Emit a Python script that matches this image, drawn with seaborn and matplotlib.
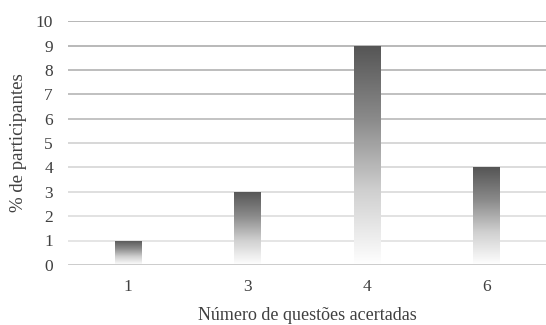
import numpy as np
import pandas as pd
import matplotlib.pyplot as plt
import seaborn as sns
from matplotlib.colors import LinearSegmentedColormap

# dados
acertos = ["1", "3", "4", "6"]
percentual = [1, 3, 9, 4]

df = pd.DataFrame({"acertos": acertos, "pct": percentual})

sns.set_theme(style="white")
plt.rcParams['font.family'] = ['Liberation Serif', 'DejaVu Serif']

fig = plt.figure(figsize=(5.46, 3.25), dpi=100, facecolor='white')
ax = fig.add_axes([0.125, 0.185, 0.875, 0.75])

ax = sns.barplot(data=df, x="acertos", y="pct", color="#888888", width=0.22, ax=ax)

# gradiente cinza: escuro no topo, branco na base
cmap = LinearSegmentedColormap.from_list("grad", ["#ffffff", "#d0d0d0", "#8a8a8a", "#555555"])
grad = np.linspace(0, 1, 256).reshape(-1, 1)
for p in ax.patches:
    x0, y0 = p.get_x(), p.get_y()
    w, h = p.get_width(), p.get_height()
    p.set_facecolor("none")
    p.set_edgecolor("none")
    im = ax.imshow(grad, cmap=cmap, origin="lower", aspect="auto",
                   extent=[x0, x0 + w, y0, y0 + h], zorder=3)
    im.set_clip_path(p)

ax.set_xlim(-0.5, 3.5)
ax.set_ylim(0, 10)
ax.set_yticks(range(0, 11))

# linhas de grade que clareiam para baixo
for v in range(1, 11):
    c = 0.93 - 0.015 * (v - 1)
    ax.axhline(v, color=str(c - 0.13 if v >= 6 else c - 0.05), lw=1.2, zorder=1)
ax.axhline(0, color="#c8c8c8", lw=2, zorder=4)

for s in ax.spines.values():
    s.set_visible(False)
ax.tick_params(axis="both", length=0, labelsize=12.5, colors="#404040")
ax.tick_params(axis="y", pad=11)
ax.tick_params(axis="x", pad=10)
ax.set_xlabel("Número de questões acertadas", fontsize=13, color="#404040", labelpad=9)
ax.set_ylabel("% de participantes", fontsize=13.5, color="#404040", labelpad=6)

plt.savefig("out.png", dpi=100)
